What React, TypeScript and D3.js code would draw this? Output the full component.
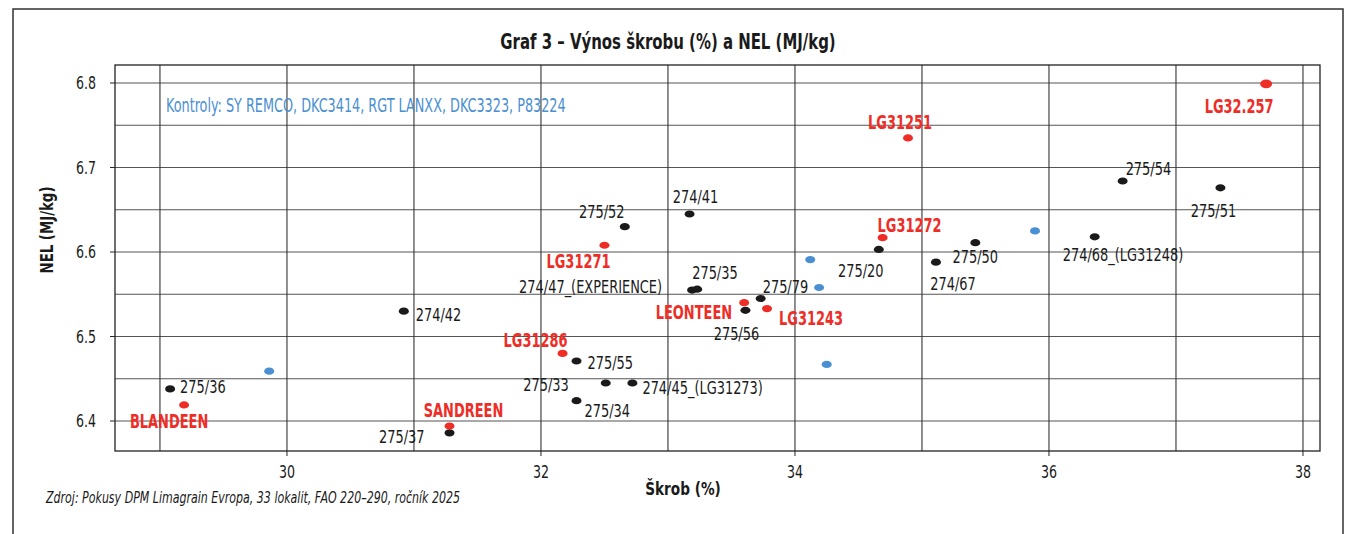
import React from "react";
import * as d3 from "d3";

// ---- data ----
const hybridNames = [
  "275/36", "275/37", "274/42", "275/52", "274/41", "274/47_(EXPERIENCE)", "275/35",
  "275/79", "275/56", "275/20", "274/67", "275/50", "274/68_(LG31248)", "275/54",
  "275/51", "275/55", "275/33", "274/45_(LG31273)", "275/34",
];
const hybridStarch = [
  29.08, 31.28, 30.92, 32.66, 33.17, 33.19, 33.23,
  33.73, 33.61, 34.66, 35.11, 35.42, 36.36, 36.58,
  37.35, 32.28, 32.51, 32.72, 32.28,
];
const hybridNel = [
  6.438, 6.386, 6.530, 6.630, 6.645, 6.555, 6.556,
  6.545, 6.531, 6.603, 6.588, 6.611, 6.618, 6.684,
  6.676, 6.471, 6.445, 6.445, 6.424,
];

const lgNames = [
  "BLANDEEN", "SANDREEN", "LG31286", "LG31271", "LEONTEEN", "LG31243", "LG31272", "LG31251", "LG32.257",
];
const lgStarch = [29.19, 31.28, 32.17, 32.50, 33.60, 33.78, 34.69, 34.89, 37.71];
const lgNel = [6.419, 6.394, 6.480, 6.608, 6.540, 6.533, 6.617, 6.735, 6.799];

const controlStarch = [29.86, 34.12, 34.19, 34.25, 35.89];
const controlNel = [6.459, 6.591, 6.558, 6.467, 6.625];

const xTicks = [30, 32, 34, 36, 38];
const xGrid = [29, 30, 31, 32, 33, 34, 35, 36, 37, 38];
const yTicks = [6.4, 6.5, 6.6, 6.7, 6.8];
const yGrid = [6.4, 6.45, 6.5, 6.55, 6.6, 6.65, 6.7, 6.75, 6.8];

const titleText = "Graf 3 – Výnos škrobu (%) a NEL (MJ/kg)";
const controlsText = "Kontroly: SY REMCO, DKC3414, RGT LANXX, DKC3323, P83224";
const xLabel = "Škrob (%)";
const yLabel = "NEL (MJ/kg)";
const sourceText = "Zdroj: Pokusy DPM Limagrain Evropa, 33 lokalit, FAO 220–290, ročník 2025";

// ---- label placement (pixels relative to point) ----
type Off = { a: "start" | "end" | "middle"; dx: number; dy: number };
const labelOffsets: Record<string, Off> = {
  "275/36": { a: "start", dx: 10, dy: -2 },
  "275/37": { a: "end", dx: -25, dy: 4 },
  "274/42": { a: "start", dx: 12, dy: 3 },
  "275/52": { a: "middle", dx: -23, dy: -15 },
  "274/41": { a: "middle", dx: 6, dy: -17 },
  "274/47_(EXPERIENCE)": { a: "end", dx: -30, dy: -4 },
  "275/35": { a: "start", dx: -5, dy: -17 },
  "275/79": { a: "start", dx: 2, dy: -12 },
  "275/56": { a: "middle", dx: -9, dy: 23 },
  "275/20": { a: "middle", dx: -18, dy: 21 },
  "274/67": { a: "middle", dx: 17, dy: 21 },
  "275/50": { a: "middle", dx: 0, dy: 14 },
  "274/68_(LG31248)": { a: "start", dx: -32, dy: 18 },
  "275/54": { a: "start", dx: 3, dy: -13 },
  "275/51": { a: "middle", dx: -7, dy: 23 },
  "275/55": { a: "start", dx: 11, dy: 2 },
  "275/33": { a: "end", dx: -37, dy: 2 },
  "274/45_(LG31273)": { a: "start", dx: 10, dy: 5 },
  "275/34": { a: "start", dx: 8, dy: 10 },
  BLANDEEN: { a: "middle", dx: -15, dy: 16 },
  SANDREEN: { a: "middle", dx: 14, dy: -16 },
  LG31286: { a: "middle", dx: -27, dy: -13 },
  LG31271: { a: "middle", dx: -26, dy: 16 },
  LEONTEEN: { a: "end", dx: -12, dy: 9 },
  LG31243: { a: "start", dx: 12, dy: 9 },
  LG31272: { a: "middle", dx: 27, dy: -13 },
  LG31251: { a: "middle", dx: -8, dy: -16 },
  "LG32.257": { a: "middle", dx: -27, dy: 22 },
};

const W = 1351;
const H = 534;
const plot = { left: 115, right: 1320, top: 65, bottom: 451 };
const FONT = "'Liberation Sans Narrow', 'DejaVu Sans Condensed', 'Arial Narrow', sans-serif";
const RED = "#ee2d27";
const BLUE = "#4a8fd2";
const BLACK = "#1a1a1a";

type TProps = {
  x: number;
  y: number;
  sx?: number;
  anchor?: "start" | "end" | "middle";
  rotate?: number;
  children: React.ReactNode;
  [k: string]: any;
};
function T({ x, y, sx = 0.9, anchor = "start", rotate = 0, children, ...rest }: TProps) {
  return (
    <text
      transform={`translate(${x},${y}) rotate(${rotate}) scale(${sx},1)`}
      textAnchor={anchor}
      {...rest}
    >
      {children}
    </text>
  );
}

export default function App() {
  const x = d3.scaleLinear().domain([28.646, 38.134]).range([plot.left, plot.right]);
  const y = d3.scaleLinear().domain([6.3645, 6.8213]).range([plot.bottom, plot.top]);

  const hybrids = hybridNames.map((n, i) => ({ n, x: hybridStarch[i], y: hybridNel[i] }));
  const lgs = lgNames.map((n, i) => ({ n, x: lgStarch[i], y: lgNel[i] }));
  const controls = controlStarch.map((v, i) => ({ x: v, y: controlNel[i] }));

  return (
    <svg
      width={W}
      height={H}
      style={{ position: "absolute", left: 0, top: 0, background: "#fff" }}
      fontFamily={FONT}
    >
      <rect x={0} y={0} width={W} height={H} fill="#fff" />
      {/* outer frame */}
      <path d={`M13,${H} V9 H1343 V${H}`} fill="none" stroke="#333" strokeWidth={1.5} />

      {/* title */}
      <T x={668} y={49} sx={0.81} anchor="middle" fontSize={20.5} fontWeight="bold" fill={BLACK}>
        {titleText}
      </T>

      {/* grid */}
      {yGrid.map((v) => (
        <line key={"hg" + v} x1={plot.left} x2={plot.right} y1={y(v)} y2={y(v)} stroke="#555" strokeWidth={1.1} />
      ))}
      {xGrid.map((v) => (
        <line key={"vg" + v} x1={x(v)} x2={x(v)} y1={plot.top} y2={plot.bottom} stroke="#333" strokeWidth={1.1} />
      ))}
      <rect
        x={plot.left}
        y={plot.top}
        width={plot.right - plot.left}
        height={plot.bottom - plot.top}
        fill="none"
        stroke="#222"
        strokeWidth={1.3}
      />

      {/* ticks */}
      {xTicks.map((v) => (
        <g key={"xt" + v}>
          <line x1={x(v)} x2={x(v)} y1={plot.bottom} y2={plot.bottom + 5} stroke="#222" />
          <T x={x(v)} y={plot.bottom + 27} sx={0.8} anchor="middle" fontSize={17.5} fill={BLACK}>
            {v}
          </T>
        </g>
      ))}
      {yTicks.map((v) => (
        <g key={"yt" + v}>
          <line x1={plot.left - 5} x2={plot.left} y1={y(v)} y2={y(v)} stroke="#222" />
          <T x={plot.left - 19} y={y(v)} sx={0.8} dy="0.35em" anchor="end" fontSize={17.5} fill={BLACK}>
            {d3.format(".1f")(v)}
          </T>
        </g>
      ))}

      {/* axis titles */}
      <T x={683} y={495} sx={0.82} anchor="middle" fontSize={18.5} fontWeight="bold" fill={BLACK}>
        {xLabel}
      </T>
      <T x={53} y={230} rotate={-90} sx={0.8} anchor="middle" fontSize={18.5} fontWeight="bold" fill={BLACK}>
        {yLabel}
      </T>
      <T x={46} y={503} sx={0.766} fontSize={16} fontStyle="italic" fill={BLACK}>
        {sourceText}
      </T>

      {/* controls note */}
      <T x={166} y={112} sx={0.75} fontSize={19} fill={BLUE}>
        {controlsText}
      </T>

      {/* points */}
      {controls.map((d, i) => (
        <ellipse key={"c" + i} cx={x(d.x)} cy={y(d.y)} rx={5} ry={3.6} fill={BLUE} />
      ))}
      {hybrids.map((d) => (
        <ellipse key={"h" + d.n} cx={x(d.x)} cy={y(d.y)} rx={5} ry={3.6} fill={BLACK} />
      ))}
      {lgs.map((d) => (
        <ellipse
          key={"l" + d.n}
          cx={x(d.x)}
          cy={y(d.y)}
          rx={d.n === "LG32.257" ? 6 : 5}
          ry={d.n === "LG32.257" ? 4.3 : 3.6}
          fill={RED}
        />
      ))}

      {/* labels */}
      {hybrids.map((d) => {
        const o = labelOffsets[d.n];
        return (
          <T
            key={"ht" + d.n}
            x={x(d.x) + o.dx}
            y={y(d.y) + o.dy}
            dy="0.36em"
            sx={0.8}
            anchor={o.a}
            fontSize={18}
            fill={BLACK}
          >
            {d.n}
          </T>
        );
      })}
      {lgs.map((d) => {
        const o = labelOffsets[d.n];
        return (
          <T
            key={"lt" + d.n}
            x={x(d.x) + o.dx}
            y={y(d.y) + o.dy}
            dy="0.36em"
            sx={0.74}
            anchor={o.a}
            fontSize={19.5}
            fontWeight="bold"
            fill={RED}
          >
            {d.n}
          </T>
        );
      })}
    </svg>
  );
}
